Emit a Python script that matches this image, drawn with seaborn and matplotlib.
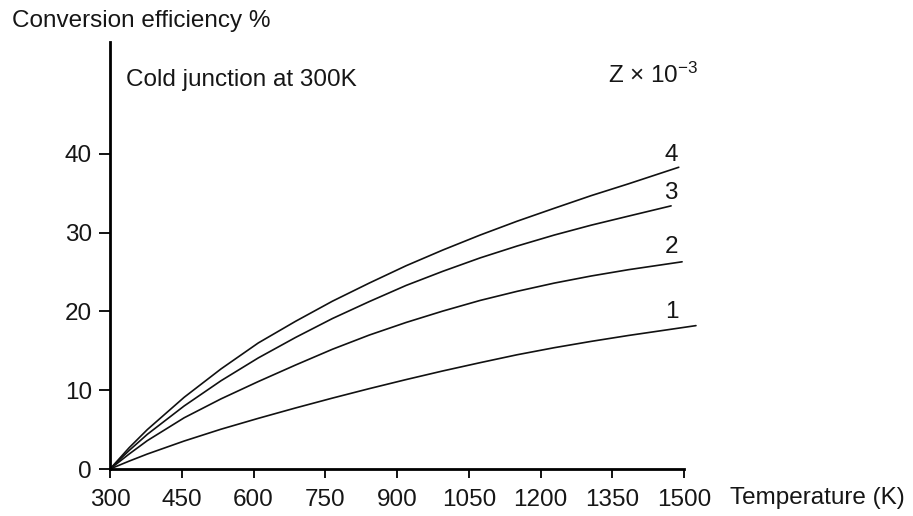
import matplotlib
matplotlib.use("Agg")
import matplotlib.pyplot as plt
import pandas as pd
import seaborn as sns

# Hot-junction temperatures (K) shared by the curves, plus each curve's end point
temps_common = [300, 340, 378, 455, 532, 610, 688, 765, 842, 919, 996, 1074,
                1151, 1229, 1306, 1384]
end_temp = {"1": 1525, "2": 1496, "3": 1473, "4": 1489}

# Conversion efficiency (%) for figure of merit Z = 1..4 (x 10^-3 per K)
eff_z1 = [0, 1.0, 1.9, 3.55, 5.05, 6.43, 7.75, 9.0, 10.2, 11.35, 12.45, 13.5,
          14.5, 15.4, 16.2, 16.95, 18.2]
eff_z2 = [0, 1.9, 3.6, 6.5, 8.9, 11.1, 13.2, 15.2, 17.0, 18.6, 20.05, 21.4,
          22.55, 23.6, 24.5, 25.3, 26.3]
eff_z3 = [0, 2.35, 4.4, 8.0, 11.2, 14.1, 16.7, 19.1, 21.25, 23.3, 25.1, 26.8,
          28.3, 29.7, 30.95, 32.1, 33.4]
eff_z4 = [0, 2.7, 5.0, 9.1, 12.7, 16.0, 18.75, 21.3, 23.6, 25.8, 27.8, 29.7,
          31.45, 33.1, 34.7, 36.2, 38.3]

z_labels = ["1", "2", "3", "4"]
x_ticks = [300, 450, 600, 750, 900, 1050, 1200, 1350, 1500]
y_ticks = [0, 10, 20, 30, 40]

frames = []
for z, e in zip(z_labels, [eff_z1, eff_z2, eff_z3, eff_z4]):
    frames.append(pd.DataFrame({"T": temps_common + [end_temp[z]], "eff": e, "Z": z}))
df = pd.concat(frames, ignore_index=True)

sns.set_style("ticks")
plt.rcParams["font.family"] = ["Liberation Sans", "DejaVu Sans"]
plt.rcParams["mathtext.fontset"] = "custom"
plt.rcParams["mathtext.rm"] = "Liberation Sans"
plt.rcParams["mathtext.it"] = "Liberation Sans"

FS = 17.5
INK = "#161616"

fig = plt.figure(figsize=(9.13, 5.16), dpi=100)
ax = fig.add_axes([110 / 913, 47 / 516, 574 / 913, 427 / 516])

sns.lineplot(data=df, x="T", y="eff", hue="Z", units="Z", estimator=None,
             palette=["#111111"] * 4, linewidth=1.2, legend=False, ax=ax,
             sort=False)
for ln in ax.lines:
    ln.set_clip_on(False)
    ln.set_solid_joinstyle("round")

ax.set_xlim(300, 1500)
ax.set_ylim(0, 54.2)
ax.set_xticks(x_ticks)
ax.set_yticks(y_ticks)
ax.set_xlabel("")
ax.set_ylabel("")
sns.despine(ax=ax)
for s in ("left", "bottom"):
    ax.spines[s].set_linewidth(2.0)
    ax.spines[s].set_color("black")
ax.tick_params(axis="both", colors="black", labelcolor=INK,
               labelsize=FS, width=1.3, direction="out")
ax.tick_params(axis="y", length=8, pad=5)
ax.tick_params(axis="x", length=6.5, pad=8)

# Curve labels at the right-hand ends
label_pos = {"4": (1473, 39.9), "3": (1473, 35.0), "2": (1473, 28.2), "1": (1475, 19.9)}
for z, (tx, ty) in label_pos.items():
    ax.text(tx, ty, z, ha="center", va="center", fontsize=FS, color=INK)

fig.text(126 / 913, 1 - 80 / 516, "Cold junction at 300K", ha="left", va="center",
         fontsize=FS, color=INK)
fig.text(12 / 913, 1 - 21 / 516, "Conversion efficiency %", ha="left", va="center",
         fontsize=FS, color=INK)
fig.text(608 / 913, 1 - 75 / 516, r"Z $\times$ 10$^{-3}$", ha="left", va="center",
         fontsize=FS, color=INK)
fig.text(730 / 913, 1 - 498 / 516, "Temperature (K)", ha="left", va="center",
         fontsize=FS, color=INK)

fig.savefig("out.png", dpi=100)
